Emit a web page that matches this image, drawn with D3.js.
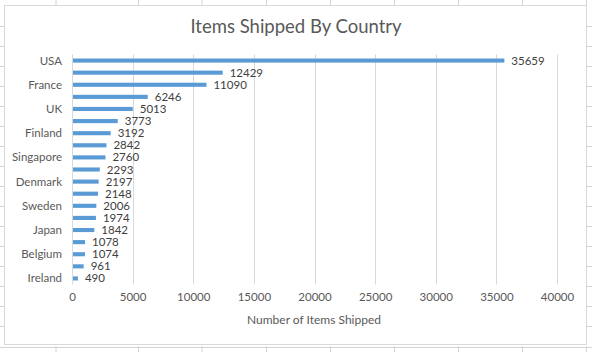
<!DOCTYPE html>
<html>
<head>
<meta charset="utf-8">
<script src="https://cdn.jsdelivr.net/npm/d3@7"></script>
<style>
  body { margin: 0; background: #fff; }
  svg { display: block; }
  text { font-family: Lato, "Open Sans", sans-serif; }
</style>
</head>
<body>
<svg id="chart" width="592" height="352"></svg>
<script>
const countries = ["USA", "Spain", "France", "Australia", "UK", "Italy", "Finland", "Norway",
  "Singapore", "Canada", "Denmark", "Germany", "Sweden", "Austria", "Japan", "Switzerland",
  "Belgium", "Philippines", "Ireland"];
const shipped = [35659, 12429, 11090, 6246, 5013, 3773, 3192, 2842, 2760, 2293, 2197, 2148,
  2006, 1974, 1842, 1078, 1074, 961, 490];
const xTicks = [0, 5000, 10000, 15000, 20000, 25000, 30000, 35000, 40000];

const data = countries.map((c, i) => ({country: c, value: shipped[i]}));

const svg = d3.select("#chart");

// spreadsheet cells behind the chart
const colLines = [56, 138.5, 202, 266.5, 330.5, 394.5, 458.5, 522.5, 586.5];
const rowLines = d3.range(0, 16).map(k => 26.5 + 20 * k);
const sheet = svg.append("g").attr("stroke", "#d4d4d4").attr("stroke-width", 1);
colLines.forEach(x => {
  sheet.append("line").attr("x1", x).attr("x2", x).attr("y1", 0).attr("y2", 6);
  sheet.append("line").attr("x1", x).attr("x2", x).attr("y1", 346).attr("y2", 352);
});
rowLines.forEach(y => {
  sheet.append("line").attr("x1", 0).attr("x2", 5).attr("y1", y).attr("y2", y);
  sheet.append("line").attr("x1", 586).attr("x2", 592).attr("y1", y).attr("y2", y);
});
sheet.append("line").attr("x1", 0).attr("x2", 592).attr("y1", 347.5).attr("y2", 347.5);

// chart frame
svg.append("rect")
  .attr("x", 4.5).attr("y", 5.5).attr("width", 582).attr("height", 339)
  .attr("fill", "#fff").attr("stroke", "#d9d9d9");

const margin = {top: 54.5, left: 72};
const width = 557 - margin.left, height = 284.5 - margin.top;

const x = d3.scaleLinear().domain([0, 40000]).range([0, width]);
const y = d3.scaleBand().domain(countries).range([0, height])
  .paddingInner(0.66).paddingOuter(0.33);

const g = svg.append("g").attr("transform", "translate(" + margin.left + "," + margin.top + ")");

// gridlines
g.selectAll(".grid")
  .data(xTicks.slice(1))
  .enter().append("line")
  .attr("x1", d => Math.round(x(d)) + 0.5).attr("x2", d => Math.round(x(d)) + 0.5)
  .attr("y1", 0).attr("y2", height)
  .attr("stroke", "#d9d9d9");

// bars
g.selectAll(".bar")
  .data(data)
  .enter().append("rect")
  .attr("x", 0)
  .attr("y", d => y(d.country))
  .attr("width", d => x(d.value))
  .attr("height", y.bandwidth())
  .attr("fill", "#5b9bd5");

// category axis line
g.append("line")
  .attr("x1", 0.5).attr("x2", 0.5).attr("y1", 0).attr("y2", height)
  .attr("stroke", "#d9d9d9");

// category labels, every other one like Excel
g.selectAll(".cat")
  .data(countries.filter((c, i) => i % 2 === 0))
  .enter().append("text")
  .attr("x", -10)
  .attr("y", d => y(d) + y.bandwidth() / 2)
  .attr("dy", "0.35em")
  .attr("text-anchor", "end")
  .attr("font-size", 11.5)
  .attr("fill", "#595959")
  .text(d => d);

// value labels
g.selectAll(".val")
  .data(data)
  .enter().append("text")
  .attr("x", d => x(d.value) + 7)
  .attr("y", d => y(d.country) + y.bandwidth() / 2)
  .attr("dy", "0.35em")
  .attr("font-size", 11.5)
  .attr("fill", "#404040")
  .text(d => d.value);

// x axis tick labels
const xAxis = g.append("g")
  .attr("transform", "translate(0," + height + ")")
  .call(d3.axisBottom(x).tickValues(xTicks).tickSize(0).tickPadding(8).tickFormat(d3.format("d")));
xAxis.select(".domain").remove();
xAxis.selectAll("text")
  .attr("font-size", 11.5)
  .attr("font-family", "Lato, 'Open Sans', sans-serif")
  .attr("fill", "#595959");

// axis title
svg.append("text")
  .attr("x", 314).attr("y", 324)
  .attr("text-anchor", "middle")
  .attr("font-size", 12)
  .attr("fill", "#595959")
  .text("Number of Items Shipped");

// chart title
svg.append("text")
  .attr("x", 296).attr("y", 33)
  .attr("text-anchor", "middle")
  .attr("font-size", 18.5)
  .attr("fill", "#595959")
  .text("Items Shipped By Country");
</script>
</body>
</html>
